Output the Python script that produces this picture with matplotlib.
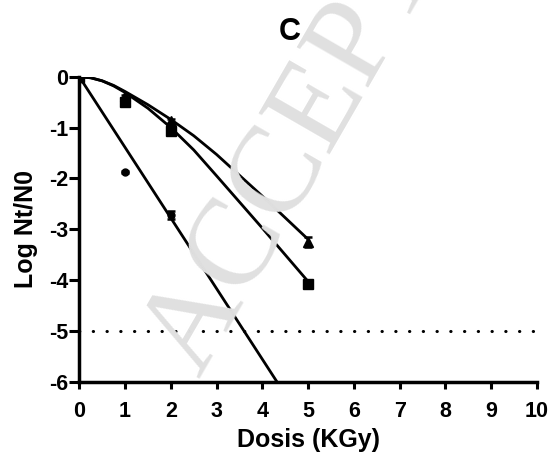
import numpy as np
import matplotlib
matplotlib.use("Agg")
import matplotlib.pyplot as plt

plt.rcParams['font.family'] = ['Liberation Sans', 'DejaVu Sans']
plt.rcParams['font.weight'] = 'bold'

# measured points (mean, sd)
tri_x = [0, 1, 2, 5]
tri_y = [0, -0.38, -0.87, -3.25]
tri_err = [0, 0.03, 0.03, 0.10]

sq_x = [0, 1, 2, 5]
sq_y = [0, -0.49, -1.07, -4.08]
sq_err = [0, 0.04, 0.05, 0.06]

circ_x = [0, 1, 2]
circ_y = [0, -1.88, -2.72]
circ_err = [0, 0.02, 0.08]

# fitted curves
fit_x = [0, 0.25, 0.5, 0.75, 1, 1.5, 2, 2.5, 3, 4, 5]
fit_tri = [0, -0.02, -0.08, -0.17, -0.29, -0.55, -0.84, -1.16, -1.53, -2.35, -3.20]
fit_sq = [0, -0.02, -0.08, -0.18, -0.31, -0.62, -1.00, -1.44, -1.95, -2.98, -4.03]
fit_circ_x = [0, 5]
fit_circ_y = [0, -6.95]

limit_y = -5

xticks = list(range(0, 11))
yticks = list(range(-6, 1))


def main():
    fig = plt.figure(figsize=(5.55, 4.57), dpi=100)
    ax = fig.add_axes([0.1429, 0.1648, 0.8247, 0.6672])

    fig.text(0.36, 0.17, "ACCEPTED MANUSCRIPT", family='Liberation Serif',
             fontweight='normal', fontsize=90, color='#e0e0e0', rotation=60,
             rotation_mode='anchor', ha='left', va='baseline', zorder=0)
    ax.patch.set_alpha(0)

    lw = 2.0
    ax.plot(fit_x, fit_tri, color='black', lw=lw, zorder=3)
    ax.plot(fit_x, fit_sq, color='black', lw=lw, zorder=3)
    ax.plot(fit_circ_x, fit_circ_y, color='black', lw=lw, zorder=3)

    ax.errorbar(tri_x, tri_y, yerr=tri_err, fmt='^', color='black', ms=6.5,
                capsize=3, elinewidth=1.5, capthick=1.8, zorder=4)
    ax.errorbar(sq_x, sq_y, yerr=sq_err, fmt='s', color='black', ms=6.5,
                capsize=3, elinewidth=1.5, capthick=1.8, zorder=4)
    ax.errorbar(circ_x, circ_y, yerr=circ_err, fmt='o', color='black', ms=5,
                capsize=3, elinewidth=1.5, capthick=1.8, zorder=4)

    ax.axhline(limit_y, color='black', lw=2.2, ls=(0, (0.1, 4.4)),
               dash_capstyle='round', zorder=2)

    ax.set_xlim(0, 10)
    ax.set_ylim(-6, 0)
    ax.set_xticks(xticks)
    ax.set_yticks(yticks)
    ax.set_yticklabels([str(t) for t in yticks])

    for s in ['top', 'right']:
        ax.spines[s].set_visible(False)
    for s in ['left', 'bottom']:
        ax.spines[s].set_linewidth(2.5)
    ax.tick_params(width=2.2, labelsize=15.5)
    ax.tick_params(axis='x', length=5, pad=9)
    ax.tick_params(axis='y', length=7, pad=1)
    for lab in ax.get_xticklabels() + ax.get_yticklabels():
        lab.set_fontweight('bold')

    ax.set_xlabel("Dosis (KGy)", fontsize=18, fontweight='bold', va='center')
    ax.set_ylabel("Log Nt/N0", fontsize=18, fontweight='bold', va='center')
    ax.xaxis.set_label_coords(0.5, -0.191)
    ax.yaxis.set_label_coords(-0.117, 0.5)
    fig.text(0.5225, 0.93, "C", fontsize=22, fontweight='bold',
             ha='center', va='center')

    fig.savefig("out.png", dpi=100)


if __name__ == '__main__':
    main()
